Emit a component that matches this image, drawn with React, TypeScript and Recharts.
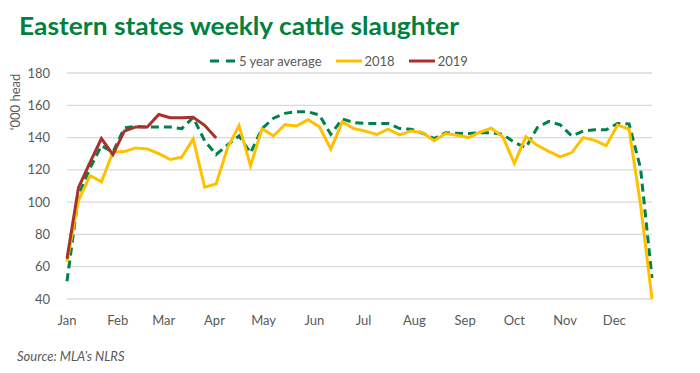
import React from 'react';
import { LineChart, Line, XAxis, YAxis, CartesianGrid, Legend } from 'recharts';

// weekly slaughter, '000 head, week 1..52
const weekNos = [
  1, 2, 3, 4, 5, 6, 7, 8, 9, 10, 11, 12, 13, 14, 15, 16, 17, 18, 19, 20, 21, 22, 23, 24, 25, 26,
  27, 28, 29, 30, 31, 32, 33, 34, 35, 36, 37, 38, 39, 40, 41, 42, 43, 44, 45, 46, 47, 48, 49, 50, 51, 52,
];

const fiveYearAvg = [
  51, 104, 121, 135, 131, 146, 147, 146.5, 146.5, 146.5, 145.5, 152.5, 138, 129.5, 135.5, 141, 130.5,
  145.5, 152, 155, 156, 156, 154, 142, 151.5, 149.3, 148.7, 148.7, 148.7, 145.6, 145.2, 142.7, 139.4,
  143, 142.7, 142.5, 143, 143, 142, 137, 133.8, 146.2, 150, 147.9, 141, 144, 144.8, 144.8, 148.7,
  148.5, 121, 53,
];

const y2018 = [
  63, 101, 116.5, 112.6, 131, 131.3, 133.6, 133, 130, 126.4, 127.8, 139.2, 109.3, 111.3, 133.6, 147.5,
  122.5, 145.5, 141, 148, 147.2, 151, 146.8, 132.8, 149.7, 145.6, 144, 141.9, 145.2, 141.7, 144.1,
  143.1, 138, 142.5, 141.4, 140, 143.3, 145.8, 140.4, 124, 140.6, 135.2, 131.5, 128, 130.7, 140, 138.3,
  135, 147.8, 145.3, 98.5, 40,
];

const y2019 = [65, 109, 124.5, 139.4, 129.4, 144, 146.6, 146.6, 154.3, 152.3, 152.3, 152.6, 147.6, 139.7];

const monthStartDays = [0, 31, 59, 90, 120, 151, 181, 212, 243, 273, 304, 334];
const monthLabels = ['Jan', 'Feb', 'Mar', 'Apr', 'May', 'Jun', 'Jul', 'Aug', 'Sep', 'Oct', 'Nov', 'Dec'];
const yTicks = [40, 60, 80, 100, 120, 140, 160, 180];
const legendOrder = ['5 year average', '2018', '2019'];

const GREEN = '#00804a';
const YELLOW = '#ffc000';
const RED = '#a8312b';
const GREY = '#595959';
const FONT = 'Lato, "Open Sans", sans-serif';

const data = weekNos.map((w, i) => ({
  day: (w - 1) * 7,
  avg: fiveYearAvg[i],
  y2018: y2018[i],
  y2019: i < y2019.length ? y2019[i] : null,
}));

function LegendContent({ payload }: any) {
  if (!payload) return null;
  const items = [...payload].sort((a: any, b: any) => legendOrder.indexOf(a.value) - legendOrder.indexOf(b.value));
  return (
    <div style={{ display: 'flex', alignItems: 'center', fontFamily: FONT, fontSize: 13, color: GREY }}>
      {items.map((p: any) => (
        <div key={p.value} style={{ display: 'flex', alignItems: 'center', marginRight: 14 }}>
          <svg width={26} height={8} style={{ marginRight: 3 }}>
            <line
              x1={0}
              y1={4}
              x2={26}
              y2={4}
              stroke={p.color}
              strokeWidth={3}
              strokeDasharray={p.value === '5 year average' ? '9 7' : undefined}
            />
          </svg>
          <span>{p.value}</span>
        </div>
      ))}
    </div>
  );
}

function YLabel({ viewBox }: any) {
  const x = viewBox.x + 15;
  const y = viewBox.y + 29;
  return (
    <text
      x={x}
      y={y}
      transform={`rotate(-90, ${x}, ${y})`}
      textAnchor="middle"
      dominantBaseline="central"
      fill={GREY}
      fontSize={13}
      fontFamily={FONT}
    >
      ‘000 head
    </text>
  );
}

export default function App() {
  return (
    <div style={{ position: 'absolute', left: 0, top: 0, width: 700, height: 373, background: '#fff', overflow: 'hidden' }}>
      <svg width={700} height={45} style={{ position: 'absolute', left: 0, top: 0 }}>
        <text
          x={19}
          y={35}
          fontFamily={FONT}
          fontWeight={700}
          fontSize={24}
          fill="#00813f"
          textLength={440}
          lengthAdjust="spacingAndGlyphs"
        >
          Eastern states weekly cattle slaughter
        </text>
      </svg>
      <div style={{ position: 'absolute', left: 0, top: 50 }}>
        <LineChart width={700} height={280} data={data} margin={{ top: 3, right: 48, bottom: 1, left: 0 }}>
          <CartesianGrid horizontal vertical={false} stroke="#d9d9d9" strokeWidth={1.3} />
          <XAxis
            dataKey="day"
            type="number"
            domain={[0, 357]}
            ticks={monthStartDays}
            tickFormatter={(v: number) => monthLabels[monthStartDays.indexOf(v)]}
            axisLine={false}
            tickLine={false}
            tickMargin={11}
            tick={{ fontSize: 13, fill: GREY, fontFamily: FONT }}
            interval={0}
          />
          <YAxis
            domain={[40, 180]}
            ticks={yTicks}
            width={67}
            axisLine={false}
            tickLine={false}
            tickMargin={11}
            tick={{ fontSize: 13, fill: GREY, fontFamily: FONT }}
            label={<YLabel />}
          />
          <Legend
            verticalAlign="top"
            align="left"
            height={20}
            wrapperStyle={{ left: 210, width: 300, top: 3 }}
            content={<LegendContent />}
          />
          <Line
            type="linear"
            dataKey="avg"
            name="5 year average"
            stroke={GREEN}
            strokeWidth={3}
            strokeDasharray="8 5"
            dot={false}
            isAnimationActive={false}
          />
          <Line
            type="linear"
            dataKey="y2018"
            name="2018"
            stroke={YELLOW}
            strokeWidth={3}
            dot={false}
            isAnimationActive={false}
          />
          <Line
            type="linear"
            dataKey="y2019"
            name="2019"
            stroke={RED}
            strokeWidth={3}
            dot={false}
            isAnimationActive={false}
          />
        </LineChart>
      </div>
      <div
        style={{
          position: 'absolute',
          left: 17,
          top: 348,
          fontFamily: FONT,
          fontStyle: 'italic',
          fontSize: 13,
          color: GREY,
        }}
      >
        Source: MLA’s NLRS
      </div>
    </div>
  );
}
